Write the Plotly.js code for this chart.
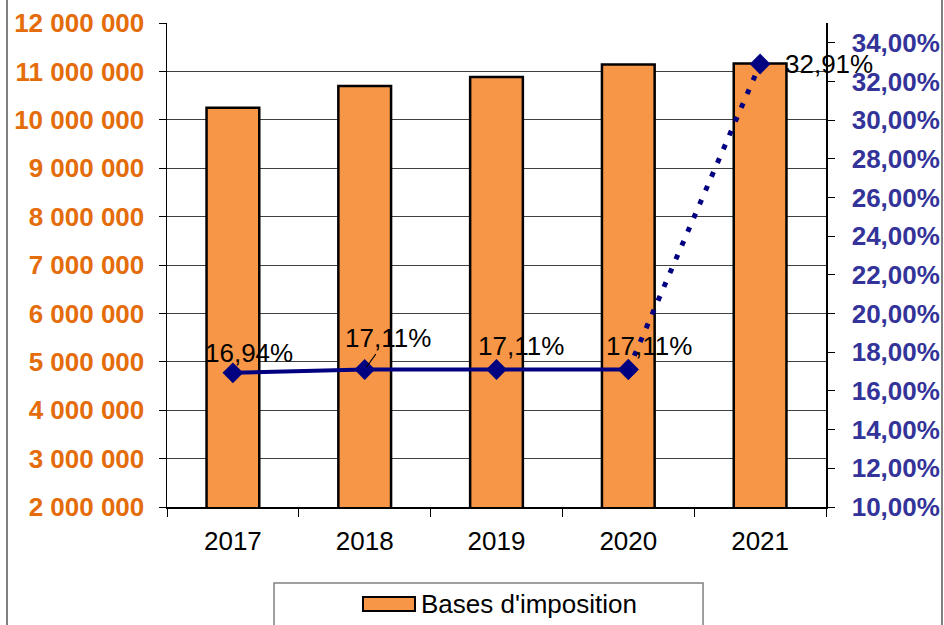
<!DOCTYPE html>
<html><head><meta charset="utf-8">
<script src="https://cdn.plot.ly/plotly-3.0.1.min.js"></script>
<style>html,body{margin:0;padding:0;background:#fff}#chart{width:944px;height:625px}</style>
</head><body><div id="chart"></div>
<script>
// ---- data ----
const years = ['2017', '2018', '2019', '2020', '2021'];
const bases = [10250000, 10700000, 10885000, 11140000, 11165000];
const rates = [16.94, 17.11, 17.11, 17.11, 32.91];
const barName = "Bases d'imposition";
const rateName = "Taux";

// ---- styles ----
const FONT = 'Liberation Sans, Arial, sans-serif';
const ORANGE_TXT = '#E46C0A';
const BLUE_TXT = '#333399';
const NAVY = '#000080';
const BAR_FILL = '#F79646';
const labelOffsets = [[16, 20], [23, -32], [24, 24], [21, 24], [69, 0]];
const arrowIdx = 1;

const idx = years.map((_, i) => i);
const fmtPct = v => v.toFixed(2).replace('.', ',') + '%';

const traces = [
  {
    type: 'bar', x: idx, y: bases, name: barName, yaxis: 'y', width: 0.4,
    marker: {color: BAR_FILL, line: {color: '#000', width: 2.5}},
    hoverinfo: 'skip', showlegend: false
  },
  {
    type: 'scatter', mode: 'lines+markers', x: idx.slice(0, 4), y: rates.slice(0, 4),
    yaxis: 'y2', name: rateName, showlegend: false,
    line: {color: NAVY, width: 4},
    marker: {symbol: 'diamond', size: 16, color: NAVY}
  },
  {
    type: 'scatter', mode: 'lines+markers', x: idx.slice(3), y: rates.slice(3),
    yaxis: 'y2', name: rateName, showlegend: false,
    line: {color: NAVY, width: 5, dash: '5px,10px'},
    marker: {symbol: 'diamond', size: 16, color: NAVY}
  }
];

const annotations = rates.map((r, i) => {
  const o = labelOffsets[i];
  const a = {
    x: idx[i], y: r, xref: 'x', yref: 'y2', text: fmtPct(r),
    font: {family: FONT, size: 26, color: '#000'}
  };
  if (i === arrowIdx) {
    Object.assign(a, {showarrow: true, ax: o[0], ay: o[1], arrowhead: 0, arrowwidth: 1.2, arrowcolor: '#000', standoff: 3});
  } else {
    Object.assign(a, {showarrow: false, xshift: o[0], yshift: o[1]});
  }
  return a;
});
// legend label (drawn manually to match the wide swatch of the reference)
annotations.push({
  xref: 'paper', yref: 'paper', x: 0.3824, y: -0.2004, xanchor: 'left', yanchor: 'middle',
  showarrow: false, text: barName, font: {family: FONT, size: 26, color: '#000'}
});

const layout = {
  width: 944, height: 625, autosize: false,
  margin: {l: 167, r: 118, t: 23, b: 118, pad: 0},
  paper_bgcolor: '#fff', plot_bgcolor: '#fff',
  separators: ', ',
  font: {family: FONT, size: 26, color: '#000'},
  showlegend: false,
  xaxis: {
    type: 'linear', range: [-0.5, years.length - 0.5], automargin: false,
    tickmode: 'array', tickvals: idx, ticktext: years, ticks: '',
    minor: {tick0: -0.5, dtick: 1, ticks: 'outside', ticklen: 8, tickcolor: '#000', showgrid: false},
    showline: true, linecolor: '#000', linewidth: 2, showgrid: false, zeroline: false,
    tickfont: {family: FONT, size: 26, color: '#000'}, ticklabelstandoff: 10
  },
  yaxis: {
    range: [2000000, 12000000], tick0: 2000000, dtick: 1000000, tickformat: ',d', automargin: false,
    ticks: 'outside', ticklen: 7, tickcolor: '#000',
    showline: true, linecolor: '#000', linewidth: 1.5,
    showgrid: true, gridcolor: '#404040', gridwidth: 1, zeroline: false,
    tickfont: {family: FONT, size: 26, color: ORANGE_TXT, weight: 'bold'}, ticklabelstandoff: 9
  },
  yaxis2: {
    overlaying: 'y', side: 'right', anchor: 'x', range: [10, 35.03], tick0: 10, dtick: 2, automargin: false,
    tickformat: '.2f', ticksuffix: '%',
    ticks: 'outside', ticklen: 7, tickcolor: '#000',
    showline: true, linecolor: '#000', linewidth: 1.5, showgrid: false, zeroline: false,
    tickfont: {family: FONT, size: 26, color: BLUE_TXT, weight: 'bold'}, ticklabelstandoff: 12
  },
  yaxis3: {
    overlaying: 'y', side: 'right', anchor: 'x', range: [10, 35.03], tick0: 10, dtick: 2, automargin: false,
    ticks: 'inside', ticklen: 7, tickcolor: '#000', showticklabels: false,
    showline: false, showgrid: false, zeroline: false
  },
  annotations: annotations,
  shapes: [
    {type: 'line', xref: 'paper', yref: 'paper', x0: -0.2428, x1: -0.2428, y0: -0.3, y1: 1.1, line: {color: '#808080', width: 2}},
    {type: 'line', xref: 'paper', yref: 'paper', x0: 1.176, x1: 1.176, y0: -0.3, y1: 1.1, line: {color: '#808080', width: 2}},
    {type: 'rect', xref: 'paper', yref: 'paper', x0: 0.1624, x1: 0.8134, y0: -0.157, y1: -0.3, line: {color: '#808080', width: 1.5}, fillcolor: 'rgba(0,0,0,0)'},
    {type: 'rect', xref: 'paper', yref: 'paper', x0: 0.2974, x1: 0.3763, y0: -0.186, y1: -0.2149, line: {color: '#000', width: 2}, fillcolor: BAR_FILL}
  ]
};

Plotly.newPlot('chart', traces, layout, {displayModeBar: false, staticPlot: true});
</script>
</body></html>
